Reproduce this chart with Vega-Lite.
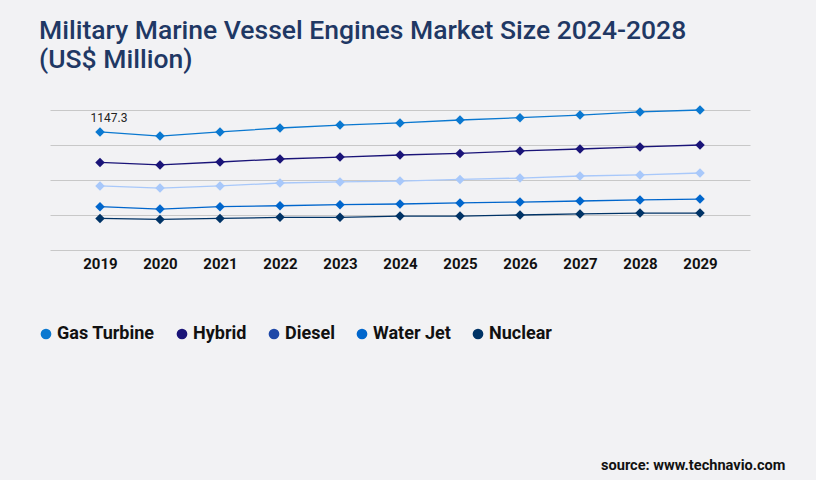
{
  "$schema": "https://vega.github.io/schema/vega-lite/v6.json",
  "width": 700,
  "height": 140,
  "autosize": {"type": "none"},
  "padding": {"left": 50, "top": 110, "right": 66, "bottom": 230},
  "background": "#f2f2f4",
  "config": {"view": {"stroke": null}, "font": "Roboto"},
  "title": {
    "text": ["Military Marine Vessel Engines Market Size 2024-2028", "(US$ Million)"],
    "anchor": "start",
    "font": "Roboto",
    "fontSize": 26.5,
    "fontWeight": 500,
    "lineHeight": 29,
    "color": "#1f3864",
    "offset": 32,
    "dx": 2
  },
  "data": {
    "values": [
      {"year": "2019", "series": "Gas Turbine", "value": 1147.3, "label": "1147.3"},
      {"year": "2020", "series": "Gas Turbine", "value": 1107},
      {"year": "2021", "series": "Gas Turbine", "value": 1147},
      {"year": "2022", "series": "Gas Turbine", "value": 1185},
      {"year": "2023", "series": "Gas Turbine", "value": 1214},
      {"year": "2024", "series": "Gas Turbine", "value": 1234},
      {"year": "2025", "series": "Gas Turbine", "value": 1263},
      {"year": "2026", "series": "Gas Turbine", "value": 1285},
      {"year": "2027", "series": "Gas Turbine", "value": 1311},
      {"year": "2028", "series": "Gas Turbine", "value": 1341},
      {"year": "2029", "series": "Gas Turbine", "value": 1360},
      {"year": "2019", "series": "Hybrid", "value": 851},
      {"year": "2020", "series": "Hybrid", "value": 826},
      {"year": "2021", "series": "Hybrid", "value": 855},
      {"year": "2022", "series": "Hybrid", "value": 884},
      {"year": "2023", "series": "Hybrid", "value": 903},
      {"year": "2024", "series": "Hybrid", "value": 923},
      {"year": "2025", "series": "Hybrid", "value": 938},
      {"year": "2026", "series": "Hybrid", "value": 962},
      {"year": "2027", "series": "Hybrid", "value": 981},
      {"year": "2028", "series": "Hybrid", "value": 1001},
      {"year": "2029", "series": "Hybrid", "value": 1020},
      {"year": "2019", "series": "Diesel", "value": 622},
      {"year": "2020", "series": "Diesel", "value": 602},
      {"year": "2021", "series": "Diesel", "value": 622},
      {"year": "2022", "series": "Diesel", "value": 651},
      {"year": "2023", "series": "Diesel", "value": 661},
      {"year": "2024", "series": "Diesel", "value": 670},
      {"year": "2025", "series": "Diesel", "value": 686},
      {"year": "2026", "series": "Diesel", "value": 699},
      {"year": "2027", "series": "Diesel", "value": 719},
      {"year": "2028", "series": "Diesel", "value": 729},
      {"year": "2029", "series": "Diesel", "value": 748},
      {"year": "2019", "series": "Water Jet", "value": 421},
      {"year": "2020", "series": "Water Jet", "value": 398},
      {"year": "2021", "series": "Water Jet", "value": 421},
      {"year": "2022", "series": "Water Jet", "value": 430},
      {"year": "2023", "series": "Water Jet", "value": 440},
      {"year": "2024", "series": "Water Jet", "value": 447},
      {"year": "2025", "series": "Water Jet", "value": 457},
      {"year": "2026", "series": "Water Jet", "value": 466},
      {"year": "2027", "series": "Water Jet", "value": 476},
      {"year": "2028", "series": "Water Jet", "value": 486},
      {"year": "2029", "series": "Water Jet", "value": 495},
      {"year": "2019", "series": "Nuclear", "value": 307},
      {"year": "2020", "series": "Nuclear", "value": 297},
      {"year": "2021", "series": "Nuclear", "value": 307},
      {"year": "2022", "series": "Nuclear", "value": 317},
      {"year": "2023", "series": "Nuclear", "value": 317},
      {"year": "2024", "series": "Nuclear", "value": 330},
      {"year": "2025", "series": "Nuclear", "value": 330},
      {"year": "2026", "series": "Nuclear", "value": 340},
      {"year": "2027", "series": "Nuclear", "value": 350},
      {"year": "2028", "series": "Nuclear", "value": 359},
      {"year": "2029", "series": "Nuclear", "value": 359}
    ]
  },
  "encoding": {
    "x": {
      "field": "year",
      "type": "ordinal",
      "scale": {"type": "point", "padding": 0.833},
      "axis": {
        "title": "source: www.technavio.com",
        "labelAngle": 0,
        "domain": false,
        "ticks": false,
        "grid": false,
        "labelFont": "Roboto",
        "labelFontSize": 15,
        "labelFontWeight": "bold",
        "labelColor": "#111111",
        "labelPadding": 6,
        "titleFont": "Roboto",
        "titleFontSize": 14.6,
        "titleFontWeight": "bold",
        "titleColor": "#111111",
        "titleAnchor": "end",
        "titleAlign": "right",
        "titleBaseline": "alphabetic",
        "titleX": 735,
        "titleY": 219
      }
    },
    "y": {
      "field": "value",
      "type": "quantitative",
      "scale": {"domain": [0, 1360], "nice": false},
      "axis": {
        "title": null,
        "labels": false,
        "ticks": false,
        "domain": false,
        "values": [0, 340, 680, 1020, 1360],
        "gridColor": "#c8c8c8",
        "gridWidth": 1
      }
    }
  },
  "layer": [
    {
      "mark": {"type": "line", "strokeWidth": 1.3},
      "encoding": {
        "color": {
          "field": "series",
          "type": "nominal",
          "scale": {
            "domain": ["Gas Turbine", "Hybrid", "Diesel", "Water Jet", "Nuclear"],
            "range": ["#0a78d0", "#1a1478", "#a8c8fa", "#0066cc", "#003366"]
          },
          "legend": null
        }
      }
    },
    {
      "mark": {"type": "point", "shape": "diamond", "filled": true, "size": 90, "opacity": 1},
      "encoding": {
        "color": {
          "field": "series",
          "type": "nominal",
          "scale": {
            "domain": ["Gas Turbine", "Hybrid", "Diesel", "Water Jet", "Nuclear"],
            "range": ["#0a78d0", "#1a1478", "#a8c8fa", "#0066cc", "#003366"]
          },
          "legend": null
        }
      }
    },
    {
      "transform": [{"filter": "isValid(datum.label)"}],
      "mark": {"type": "text", "dx": 9, "dy": -10, "fontSize": 12, "font": "Roboto", "color": "#222222", "baseline": "alphabetic"},
      "encoding": {"text": {"field": "label"}}
    },
    {
      "mark": {"type": "circle", "opacity": 0},
      "encoding": {
        "color": {
          "field": "series",
          "type": "nominal",
          "scale": {
            "domain": ["Gas Turbine", "Hybrid", "Diesel", "Water Jet", "Nuclear"],
            "range": ["#0a78d0", "#1a1478", "#1e48a8", "#0066cc", "#003366"]
          },
          "legend": {
            "title": null,
            "orient": "none",
            "legendX": -13,
            "legendY": 215,
            "direction": "horizontal",
            "columns": 5,
            "symbolType": "circle",
            "symbolSize": 115,
            "symbolOpacity": 1,
            "symbolStrokeWidth": 0,
            "labelFont": "Roboto",
            "labelFontSize": 18,
            "labelFontWeight": "bold",
            "labelColor": "#111111",
            "labelOffset": 2,
            "columnPadding": 18
          }
        }
      }
    }
  ],
  "resolve": {"scale": {"color": "independent"}}
}
